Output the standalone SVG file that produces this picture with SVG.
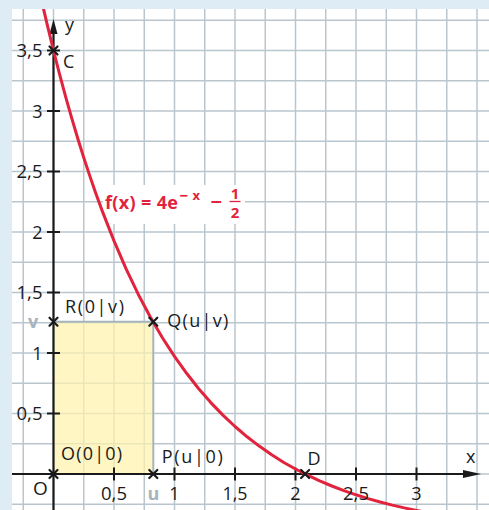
<svg xmlns="http://www.w3.org/2000/svg" width="489" height="510" viewBox="0 0 489 510">
<defs>
<style>
.grid line{stroke:#b9c6ce;stroke-width:1.5}
.ax{stroke:#1a1a1a;stroke-width:2.2;fill:none}
.tk{stroke:#1a1a1a;stroke-width:2}
.cr{stroke:#1a1a1a;stroke-width:2.2;stroke-linecap:round}
text{font-family:"Open Sans","Liberation Sans",sans-serif;fill:#1a1a1a;font-size:18px}
.gr{fill:#a7b4be;font-weight:bold}
.red{fill:#e2233d;font-weight:bold}
.yl{text-anchor:end}
.xl{text-anchor:middle}
</style>
<clipPath id="plot"><rect x="12" y="9" width="477" height="501"/></clipPath>
</defs>
<rect x="0" y="0" width="489" height="510" fill="#deedf5"/>
<rect x="12" y="9" width="477" height="501" fill="#ffffff"/>
<g class="grid" id="grid">
<line x1="23.25" y1="9" x2="23.25" y2="510"/>
<line x1="53.5" y1="9" x2="53.5" y2="510"/>
<line x1="83.75" y1="9" x2="83.75" y2="510"/>
<line x1="114" y1="9" x2="114" y2="510"/>
<line x1="144.25" y1="9" x2="144.25" y2="510"/>
<line x1="174.5" y1="9" x2="174.5" y2="510"/>
<line x1="204.75" y1="9" x2="204.75" y2="510"/>
<line x1="235" y1="9" x2="235" y2="510"/>
<line x1="265.25" y1="9" x2="265.25" y2="510"/>
<line x1="295.5" y1="9" x2="295.5" y2="510"/>
<line x1="325.75" y1="9" x2="325.75" y2="510"/>
<line x1="356" y1="9" x2="356" y2="510"/>
<line x1="386.25" y1="9" x2="386.25" y2="510"/>
<line x1="416.5" y1="9" x2="416.5" y2="510"/>
<line x1="446.75" y1="9" x2="446.75" y2="510"/>
<line x1="477" y1="9" x2="477" y2="510"/>
<line x1="12" y1="504.25" x2="489" y2="504.25"/>
<line x1="12" y1="474" x2="489" y2="474"/>
<line x1="12" y1="443.75" x2="489" y2="443.75"/>
<line x1="12" y1="413.5" x2="489" y2="413.5"/>
<line x1="12" y1="383.25" x2="489" y2="383.25"/>
<line x1="12" y1="353" x2="489" y2="353"/>
<line x1="12" y1="322.75" x2="489" y2="322.75"/>
<line x1="12" y1="292.5" x2="489" y2="292.5"/>
<line x1="12" y1="262.25" x2="489" y2="262.25"/>
<line x1="12" y1="232" x2="489" y2="232"/>
<line x1="12" y1="201.75" x2="489" y2="201.75"/>
<line x1="12" y1="171.5" x2="489" y2="171.5"/>
<line x1="12" y1="141.25" x2="489" y2="141.25"/>
<line x1="12" y1="111" x2="489" y2="111"/>
<line x1="12" y1="80.75" x2="489" y2="80.75"/>
<line x1="12" y1="50.5" x2="489" y2="50.5"/>
<line x1="12" y1="20.25" x2="489" y2="20.25"/>
</g>
<g id="rectangle">
<rect x="53.5" y="321.7" width="99.8" height="152.3" fill="#fff3ad" fill-opacity="0.72"/>
<polyline points="53.5,321.7 153.3,321.7 153.3,474" fill="none" stroke="#a7b4be" stroke-width="2"/>
</g>
<rect id="label-bg" x="103" y="185" width="142" height="39" fill="#ffffff"/>
<g id="axes">
<line class="ax" x1="12" y1="474" x2="466" y2="474"/>
<polygon points="481,474 463,470 463,478" fill="#1a1a1a"/>
<line class="ax" x1="53.5" y1="510" x2="53.5" y2="32"/>
<polygon points="53.5,19 49.5,34 57.5,34" fill="#1a1a1a"/>
<g class="tk">
<line x1="47" y1="413.5" x2="60" y2="413.5"/>
<line x1="47" y1="353" x2="60" y2="353"/>
<line x1="47" y1="292.5" x2="60" y2="292.5"/>
<line x1="47" y1="232" x2="60" y2="232"/>
<line x1="47" y1="171.5" x2="60" y2="171.5"/>
<line x1="47" y1="111" x2="60" y2="111"/>
<line x1="47" y1="50.5" x2="60" y2="50.5"/>
<line x1="114" y1="467.5" x2="114" y2="480.5"/>
<line x1="174.5" y1="467.5" x2="174.5" y2="480.5"/>
<line x1="235" y1="467.5" x2="235" y2="480.5"/>
<line x1="295.5" y1="467.5" x2="295.5" y2="480.5"/>
<line x1="356" y1="467.5" x2="356" y2="480.5"/>
<line x1="416.5" y1="467.5" x2="416.5" y2="480.5"/>
</g>
</g>
<g id="graph" clip-path="url(#plot)">
<polyline fill="none" stroke="#e2233d" stroke-width="3" stroke-linejoin="round" points="43.2,7.6 47.45,25.7 53.5,50.5 59.55,74.1 65.6,96.6 71.65,117.9 77.7,138.2 83.75,157.6 89.8,175.9 95.85,193.4 101.9,210.1 114,240.9 126.1,268.9 138.2,294.2 150.3,317 162.4,337.7 174.5,356.4 186.6,373.3 198.7,388.7 210.8,402.6 222.9,415.1 235,426.5 247.1,436.8 259.2,446.1 271.3,454.5 283.4,462.2 295.5,469 307.6,475.2 319.7,480.9 331.8,486 343.9,490.6 356,494.8 368.1,498.6 380.2,502 392.3,505.1 404.4,507.9 416.5,510.4 428.6,512.7"/>
</g>
<g id="points" class="cr">
<path d="M49.5,46.5 L57.5,54.5 M57.5,46.5 L49.5,54.5"/>
<path d="M49.5,317.7 L57.5,325.7 M57.5,317.7 L49.5,325.7"/>
<path d="M149.3,317.7 L157.3,325.7 M157.3,317.7 L149.3,325.7"/>
<path d="M49.5,470 L57.5,478 M57.5,470 L49.5,478"/>
<path d="M149.3,470 L157.3,478 M157.3,470 L149.3,478"/>
<path d="M301.1,470 L309.1,478 M309.1,470 L301.1,478"/>
</g>
<g id="axis-labels">
<text class="yl" x="42.5" y="420.3" textLength="26" lengthAdjust="spacingAndGlyphs">0,5</text>
<text class="yl" x="42.5" y="359.8">1</text>
<text class="yl" x="42.5" y="299.3" textLength="26" lengthAdjust="spacingAndGlyphs">1,5</text>
<text class="yl" x="42.5" y="238.8">2</text>
<text class="yl" x="42.5" y="178.3" textLength="26" lengthAdjust="spacingAndGlyphs">2,5</text>
<text class="yl" x="42.5" y="117.8">3</text>
<text class="yl" x="42.5" y="57.3" textLength="26" lengthAdjust="spacingAndGlyphs">3,5</text>
<text class="xl" x="114" y="500" textLength="26" lengthAdjust="spacingAndGlyphs">0,5</text>
<text class="xl" x="174.5" y="500">1</text>
<text class="xl" x="235" y="500" textLength="25" lengthAdjust="spacingAndGlyphs">1,5</text>
<text class="xl" x="295.5" y="500">2</text>
<text class="xl" x="356" y="500" textLength="26" lengthAdjust="spacingAndGlyphs">2,5</text>
<text class="xl" x="416.5" y="500">3</text>
<text class="xl" x="40.5" y="495" style="font-size:19px">O</text>
<text x="466" y="463">x</text>
<text x="65" y="31">y</text>
<text class="gr xl" x="153.3" y="499.5">u</text>
<text class="gr xl" x="33" y="327.5">v</text>
</g>
<g id="point-labels">
<text x="63" y="68.3">C</text>
<text x="65" y="313.3" textLength="59" lengthAdjust="spacing">R(0|v)</text>
<text x="167.3" y="326.7" textLength="61" lengthAdjust="spacing">Q(u|v)</text>
<text x="61" y="460" textLength="61" lengthAdjust="spacing">O(0|0)</text>
<text x="161.7" y="462.5" textLength="61" lengthAdjust="spacing">P(u|0)</text>
<text x="307.5" y="465">D</text>
</g>
<g id="function-label">
<text class="red" x="105" y="208.5" textLength="73" lengthAdjust="spacing">f(x) = 4e</text>
<text class="red" x="179.5" y="201" style="font-size:15px">−</text>
<text class="red" x="192.5" y="200" style="font-size:13px">x</text>
<text class="red" x="210.5" y="209" style="font-size:20px">−</text>
<text class="red xl" x="235" y="198.5" style="font-size:15px">1</text>
<line x1="229.5" y1="201.5" x2="240.5" y2="201.5" stroke="#e2233d" stroke-width="1.3"/>
<text class="red xl" x="235" y="218" style="font-size:15px">2</text>
</g>
</svg>
